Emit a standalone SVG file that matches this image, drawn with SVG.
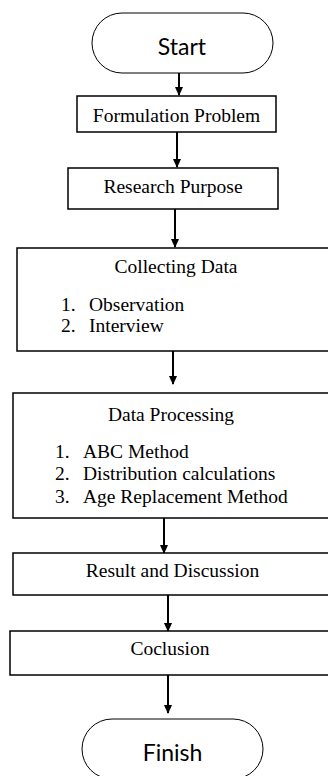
<svg xmlns="http://www.w3.org/2000/svg" width="328" height="776" viewBox="0 0 328 776">
<style>
.box{fill:#fff;stroke:#000;stroke-width:1.5}
.term{fill:#fff;stroke:#000;stroke-width:1}
.t{font-family:"Liberation Serif","Times New Roman",serif;font-size:19.5px;fill:#000}
.c{text-anchor:middle}
.s{font-family:Lato,"Open Sans",sans-serif;font-size:23px;fill:#000;text-anchor:middle}
.ln{stroke:#000;stroke-width:2;fill:none;marker-end:url(#ah)}
</style>
<defs>
<marker id="ah" markerWidth="10" markerHeight="10" refX="8" refY="5" orient="auto" markerUnits="userSpaceOnUse">
<path d="M0,1 L9,5 L0,9 Z" fill="#000"/>
</marker>
</defs>
<rect width="328" height="776" fill="#fff"/>
<g id="connectors">
<line class="ln" x1="179" y1="73" x2="179" y2="95"/>
<line class="ln" x1="177" y1="132" x2="177" y2="167"/>
<line class="ln" x1="175" y1="209" x2="175" y2="247"/>
<line class="ln" x1="173" y1="351" x2="173" y2="384"/>
<line class="ln" x1="164" y1="518" x2="164" y2="553"/>
<line class="ln" x1="168" y1="595" x2="168" y2="631"/>
<line class="ln" x1="168" y1="675" x2="168" y2="713"/>
</g>
<g id="start">
<rect class="term" x="92" y="13" width="181" height="60" rx="30" ry="30"/>
<text class="s" x="182" y="55">Start</text>
</g>
<g id="formulation">
<rect class="box" x="77" y="96" width="199" height="36"/>
<text class="t c" x="176.5" y="122">Formulation Problem</text>
</g>
<g id="research">
<rect class="box" x="68" y="168" width="210" height="41"/>
<text class="t c" x="173" y="193">Research Purpose</text>
</g>
<g id="collecting">
<rect class="box" x="17" y="248" width="318" height="103"/>
<text class="t c" x="176" y="273">Collecting Data</text>
<text class="t" x="61" y="311">1.</text>
<text class="t" x="89" y="311">Observation</text>
<text class="t" x="61" y="332">2.</text>
<text class="t" x="89" y="332">Interview</text>
</g>
<g id="processing">
<rect class="box" x="13" y="393" width="317" height="125"/>
<text class="t c" x="171" y="421">Data Processing</text>
<text class="t" x="55" y="458">1.</text>
<text class="t" x="83" y="458">ABC Method</text>
<text class="t" x="55" y="480">2.</text>
<text class="t" x="83" y="480">Distribution calculations</text>
<text class="t" x="55" y="503">3.</text>
<text class="t" x="83" y="503">Age Replacement Method</text>
</g>
<g id="result">
<rect class="box" x="13" y="553" width="320" height="42"/>
<text class="t c" x="172.5" y="577">Result and Discussion</text>
</g>
<g id="conclusion">
<rect class="box" x="10" y="631" width="320" height="44"/>
<text class="t c" x="170" y="655">Coclusion</text>
</g>
<g id="finish">
<rect class="term" x="82" y="719" width="181" height="60" rx="30" ry="30"/>
<text class="s" x="172.5" y="761">Finish</text>
</g>
</svg>
